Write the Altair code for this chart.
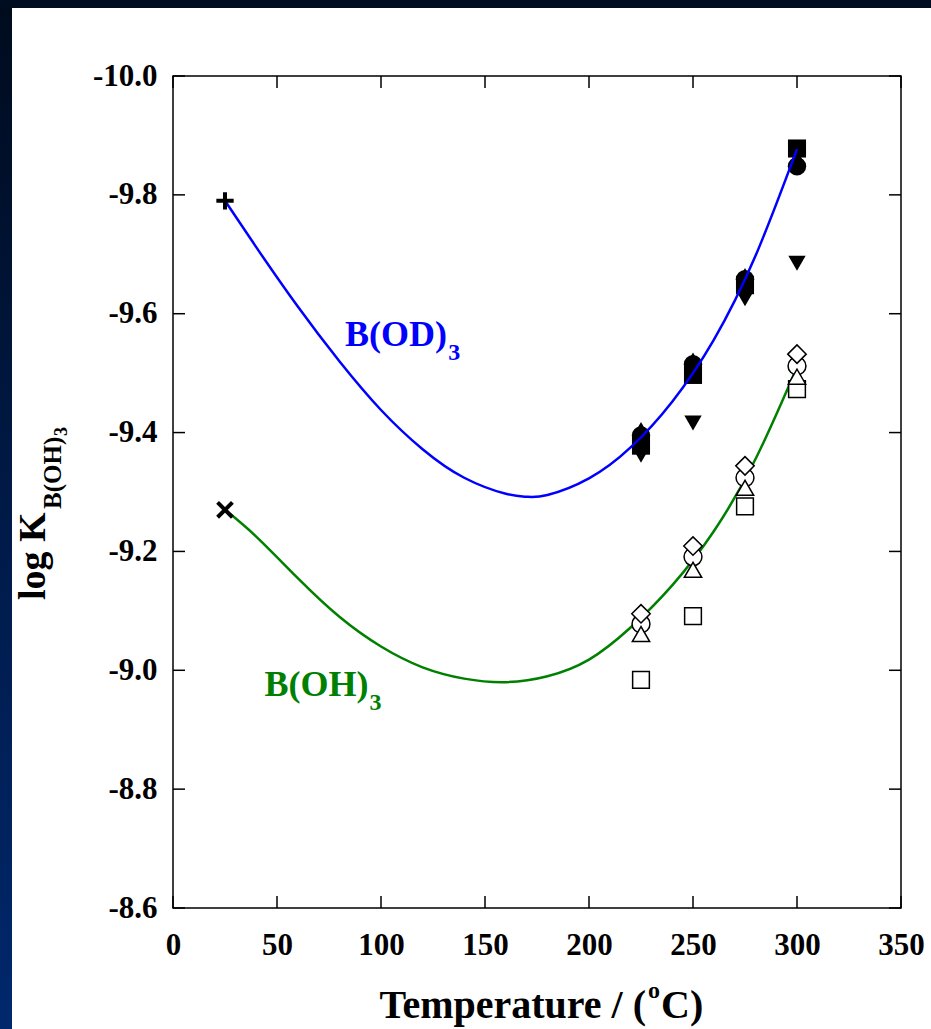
import altair as alt
import pandas as pd

# ---------------- data ----------------
temps = [225, 250, 275, 300]

# B(OD)3 (filled symbols)
od_circle = [-9.395, -9.515, -9.658, -9.848]
od_square = [-9.378, -9.497, -9.648, -9.878]
od_tri_up = [-9.405, -9.522, -9.664, -9.862]
od_tri_down = [-9.362, -9.416, -9.625, -9.685]

# B(OH)3 (open symbols)
oh_square = [-8.984, -9.091, -9.276, -9.473]
oh_tri_up = [-9.061, -9.169, -9.307, -9.494]
oh_circle = [-9.078, -9.191, -9.324, -9.512]
oh_diamond = [-9.095, -9.209, -9.344, -9.532]

# 25 C points
plus_T, plus_v = [25], [-9.79]
cross_T, cross_v = [25], [-9.27]

# fitted curves
blue_T = [25, 40, 60, 80, 100, 120, 140, 160, 170, 180, 200, 220, 240, 260, 280, 300]
blue_v = [-9.79, -9.712, -9.612, -9.52, -9.438, -9.372, -9.324, -9.297, -9.292, -9.295,
          -9.323, -9.375, -9.452, -9.556, -9.697, -9.877]
green_T = [25, 40, 60, 80, 100, 120, 140, 160, 180, 200, 220, 240, 260, 280, 300]
green_v = [-9.27, -9.225, -9.155, -9.09, -9.04, -9.005, -8.986, -8.98, -8.99, -9.018,
           -9.072, -9.143, -9.234, -9.355, -9.51]

x_ticks = [0, 50, 100, 150, 200, 250, 300, 350]
y_ticks = [-10.0, -9.8, -9.6, -9.4, -9.2, -9.0, -8.8, -8.6]

# ---------------- tables ----------------
def long(series):
    rows = []
    for name, vals in series:
        for t, v in zip(temps, vals):
            rows.append({"T": t, "v": v, "s": name})
    return pd.DataFrame(rows)

filled_df = long([("od_circle", od_circle), ("od_square", od_square),
                  ("od_tri_up", od_tri_up), ("od_tri_down", od_tri_down)])
open_df = long([("oh_square", oh_square), ("oh_tri_up", oh_tri_up),
                ("oh_circle", oh_circle), ("oh_diamond", oh_diamond)])
blue_df = pd.DataFrame({"T": blue_T, "v": blue_v})
green_df = pd.DataFrame({"T": green_T, "v": green_v})
plus_df = pd.DataFrame({"T": plus_T, "v": plus_v})
cross_df = pd.DataFrame({"T": cross_T, "v": cross_v})
xt_df = pd.DataFrame({"xv": x_ticks})
yt_df = pd.DataFrame({"yv": y_ticks})
one = pd.DataFrame({"a": [0]})

W, H = 728, 832
FONT = "Liberation Serif"

xscale = alt.Scale(domain=[0, 350], nice=False, zero=False)
yscale = alt.Scale(domain=[-10.0, -8.6], reverse=True, nice=False, zero=False)
xaxis = alt.Axis(values=x_ticks, title=None, labelExpr="format(datum.value, 'd')")
yaxis = alt.Axis(values=y_ticks, title=None,
                 labelExpr="replace(format(datum.value, '.1f'), '\u2212', '-')")

def X(f="T"):
    return alt.X(f"{f}:Q", scale=xscale, axis=xaxis)

def Y(f="v"):
    return alt.Y(f"{f}:Q", scale=yscale, axis=yaxis)

# ---------------- navy frame strips ----------------
grad = alt.Gradient(gradient="linear",
                    stops=[alt.GradientStop(color="#000b1d", offset=0),
                           alt.GradientStop(color="#001a48", offset=0.5),
                           alt.GradientStop(color="#00286c", offset=1)],
                    x1=0, x2=0, y1=0, y2=1)
left_strip = alt.Chart(one).mark_rect(color=grad).encode(
    x=alt.value(-173), x2=alt.value(-161), y=alt.value(-76), y2=alt.value(H + 121))
top_strip = alt.Chart(one).mark_rect(color="#000c20").encode(
    x=alt.value(-173), x2=alt.value(W + 30), y=alt.value(-76), y2=alt.value(-68))

# ---------------- inward ticks ----------------
TL = 12
tick_style = dict(color="black", strokeWidth=1.5)
t_left = alt.Chart(yt_df).mark_rule(**tick_style).encode(
    y=Y("yv"), x=alt.value(0), x2=alt.value(TL))
t_right = alt.Chart(yt_df).mark_rule(**tick_style).encode(
    y=Y("yv"), x=alt.value(W), x2=alt.value(W - TL))
t_top = alt.Chart(xt_df).mark_rule(**tick_style).encode(
    x=X("xv"), y=alt.value(0), y2=alt.value(TL))
t_bot = alt.Chart(xt_df).mark_rule(**tick_style).encode(
    x=X("xv"), y=alt.value(H), y2=alt.value(H - TL))

# ---------------- markers & curves ----------------
filled = alt.Chart(filled_df).mark_point(filled=True, color="black", opacity=1).encode(
    x=X(), y=Y(),
    shape=alt.Shape("s:N", legend=None, scale=alt.Scale(
        domain=["od_circle", "od_square", "od_tri_up", "od_tri_down"],
        range=["circle", "square", "triangle-up", "triangle-down"])),
    size=alt.Size("s:N", legend=None, scale=alt.Scale(
        domain=["od_circle", "od_square", "od_tri_up", "od_tri_down"],
        range=[340, 300, 360, 360])),
)
blue = alt.Chart(blue_df).mark_line(color="#0000ff", strokeWidth=2.5, interpolate="natural").encode(
    x=X(), y=Y())
green = alt.Chart(green_df).mark_line(color="#008000", strokeWidth=2.5, interpolate="natural").encode(
    x=X(), y=Y())
opened = alt.Chart(open_df).mark_point(filled=True, fill="white", stroke="black",
                                       strokeWidth=1.5, opacity=1).encode(
    x=X(), y=Y(),
    shape=alt.Shape("s:N", legend=None, scale=alt.Scale(
        domain=["oh_square", "oh_tri_up", "oh_circle", "oh_diamond"],
        range=["square", "triangle-up", "circle", "diamond"])),
    size=alt.Size("s:N", legend=None, scale=alt.Scale(
        domain=["oh_square", "oh_tri_up", "oh_circle", "oh_diamond"],
        range=[280, 340, 340, 440])),
    order=alt.Order("s:N"),
)
plus = alt.Chart(plus_df).mark_point(shape="M-1,0L1,0M0,-1L0,1", filled=False, stroke="black",
                                     strokeWidth=4, size=300, opacity=1).encode(x=X(), y=Y())
cross = alt.Chart(cross_df).mark_point(shape="M-1,-1L1,1M-1,1L1,-1", filled=False, stroke="black",
                                       strokeWidth=4, size=220, opacity=1).encode(x=X(), y=Y())

# ---------------- labels ----------------
def txt(s, size, color="black", align="left", baseline="middle", angle=0):
    kw = dict(text=s, font=FONT, fontWeight="bold", fontSize=size, color=color,
              align=align, baseline=baseline)
    if angle:
        kw["angle"] = angle
    return alt.Chart(one).mark_text(**kw)

lab_od = txt("B(OD)", 36, "#0000ff").encode(x=alt.datum(82.7), y=alt.datum(-9.564))
lab_od3 = txt("3", 24, "#0000ff").encode(x=alt.datum(132.3), y=alt.datum(-9.534))
lab_oh = txt("B(OH)", 36, "#008000").encode(x=alt.datum(44), y=alt.datum(-8.975))
lab_oh3 = txt("3", 24, "#008000").encode(x=alt.datum(94.5), y=alt.datum(-8.945))

# axis titles (rich text)
xt1 = txt("Temperature / (", 40, align="right", baseline="alphabetic").encode(
    x=alt.value(473), y=alt.value(942))
xt2 = txt("o", 24, align="left", baseline="alphabetic").encode(
    x=alt.value(475), y=alt.value(922))
xt3 = txt("C)", 40, align="left", baseline="alphabetic").encode(
    x=alt.value(488), y=alt.value(942))

yt1 = txt("log K", 38, align="left", baseline="alphabetic", angle=270).encode(
    x=alt.value(-128), y=alt.value(524))
yt2 = txt("B(OH)", 25, align="left", baseline="alphabetic", angle=270).encode(
    x=alt.value(-112), y=alt.value(433))
yt3 = txt("3", 18, align="left", baseline="alphabetic", angle=270).encode(
    x=alt.value(-106), y=alt.value(360))

chart = alt.layer(
    left_strip, top_strip,
    t_left, t_right, t_top, t_bot,
    filled, blue, green, opened, plus, cross,
    lab_od, lab_od3, lab_oh, lab_oh3,
    xt1, xt2, xt3, yt1, yt2, yt3,
).resolve_scale(shape="independent", size="independent").properties(
    width=W, height=H,
    autosize=alt.AutoSizeParams(type="none"),
    padding={"left": 173, "top": 76, "right": 30, "bottom": 121},
    background="white",
).configure_view(
    stroke="black", strokeWidth=1.5
).configure_axis(
    grid=False, domain=False, ticks=False, tickSize=0,
    labelFont=FONT, labelFontWeight="bold", labelFontSize=31, labelColor="black",
    labelFlush=False, labelOverlap=False, labelBound=False,
).configure_axisX(labelPadding=22).configure_axisY(labelPadding=16)

chart.save("out.html", embed_options={"renderer": "svg", "actions": False})
